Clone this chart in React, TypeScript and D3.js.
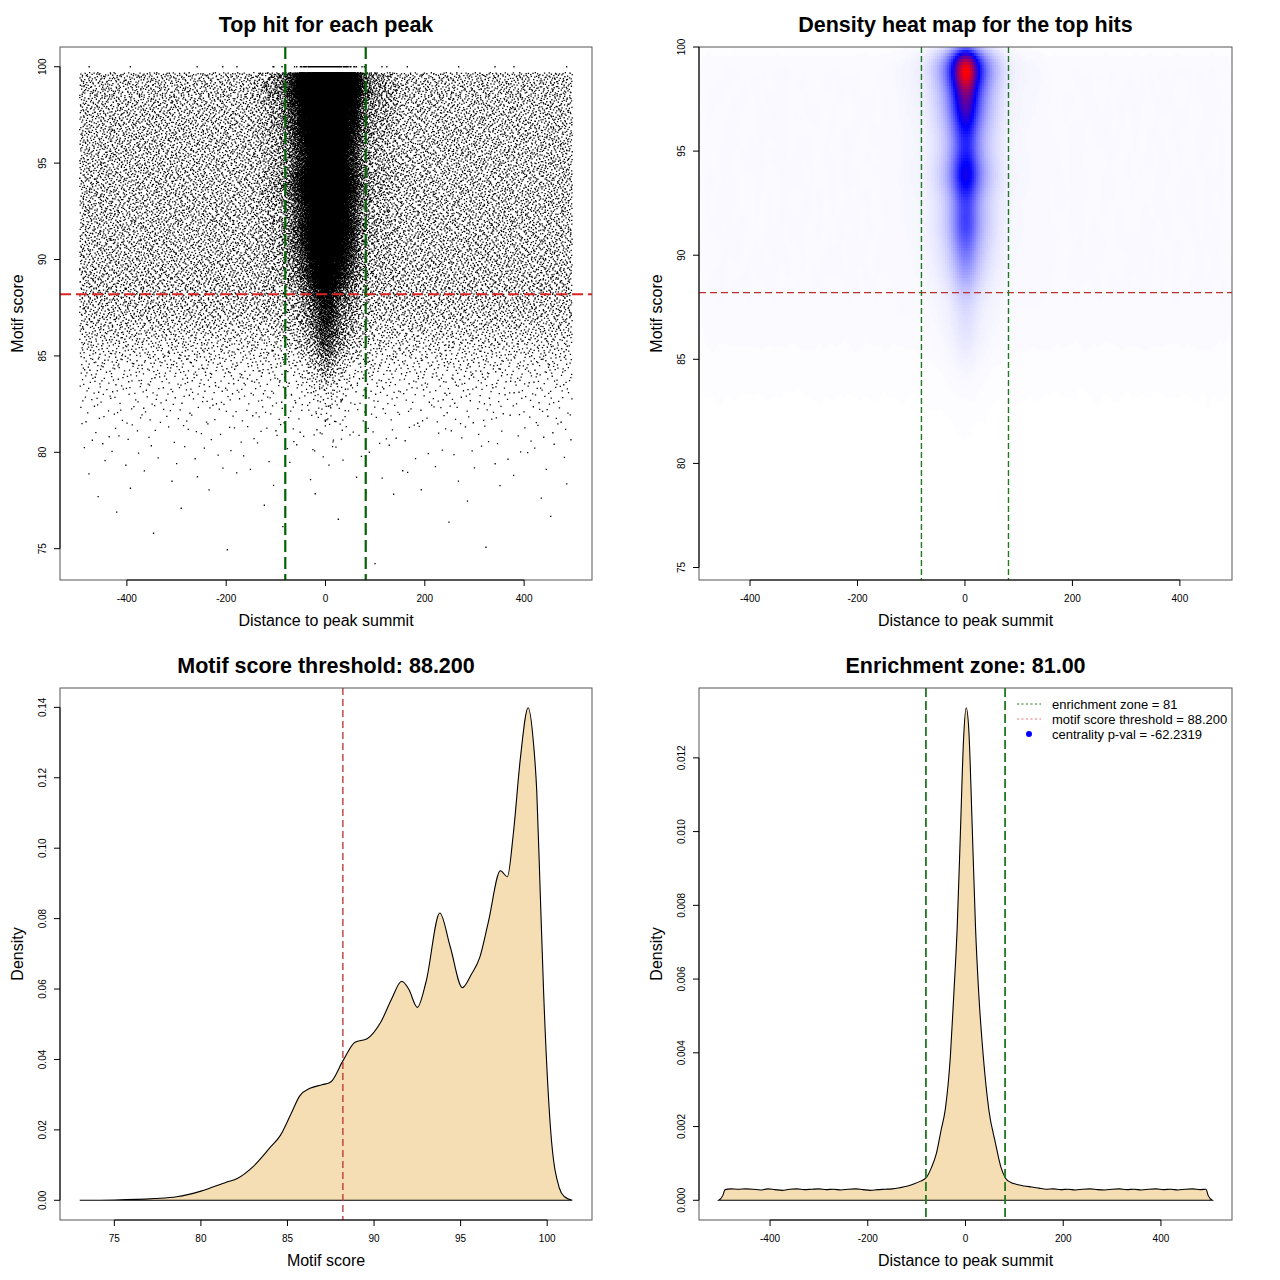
import React, { useEffect, useRef } from "react";
import * as d3 from "d3";

// ---------- data ----------

// motif score density (bottom left panel)
const scoreX = [73.0, 75.0, 77.3, 78.6, 80.0, 81.5, 82.1, 83.0, 84.0, 84.6, 85.2, 85.7, 86.3, 87.0, 87.5,
  88.2, 88.9, 89.6, 90.4, 91.0, 91.6, 92.0, 92.5, 93.0, 93.8, 94.4, 95.1, 95.6, 96.1, 96.6,
  97.3, 97.7, 98.05, 98.45, 98.9, 99.2, 99.4, 99.6, 99.8, 100.2, 100.7, 101.0, 101.45];
const scoreY = [0, 0.0001, 0.0005, 0.0010, 0.0026, 0.0052, 0.0062, 0.0095, 0.0150, 0.0185, 0.0245, 0.0296, 0.0318, 0.0328, 0.0336,
  0.0396, 0.0449, 0.0459, 0.0507, 0.0570, 0.0622, 0.0600, 0.0548, 0.0620, 0.0816, 0.0720, 0.0604, 0.0640, 0.0689, 0.0790,
  0.0936, 0.0919, 0.1044, 0.1255, 0.1399, 0.1303, 0.1159, 0.0871, 0.0583, 0.0199, 0.0035, 0.0010, 0];

// distance-to-summit density (bottom right panel)
const distX = [-505, -497, -492,
  -480, -465, -450, -435, -420, -405, -390, -375, -360, -345, -330, -315,
  -300, -285, -270, -255, -240, -225, -210, -195, -180, -165, -150,
  -135, -120, -106, -92, -80, -70, -60, -50, -41, -31, -24, -17, -10, -4,
  1.5, 7, 13.7, 20.5, 27.3, 36.3, 47.8, 61.5, 72, 82, 92, 105, 120, 135, 150,
  165, 180, 195, 210, 225, 240, 255, 270, 285, 300, 315,
  330, 345, 360, 375, 390, 405, 420, 435, 450, 465, 480,
  492, 497, 505];
const distY = [0, 0.00012, 0.00029,
  0.00031, 0.00030, 0.00031, 0.00030, 0.00028, 0.00031, 0.00029, 0.00027, 0.00030, 0.00031, 0.00029, 0.00030,
  0.00031, 0.00029, 0.00030, 0.00028, 0.00030, 0.00031, 0.00029, 0.00027, 0.00029, 0.00030, 0.00031,
  0.00034, 0.00038, 0.00044, 0.00052, 0.00062, 0.00088, 0.00125, 0.00190, 0.00250, 0.00390, 0.00557, 0.00740, 0.01015, 0.01250,
  0.01336, 0.01270, 0.01015, 0.00740, 0.00557, 0.00392, 0.00245, 0.00154, 0.00092, 0.00060, 0.00049, 0.00043, 0.00039, 0.00036, 0.00033,
  0.00030, 0.00031, 0.00029, 0.00030, 0.00028, 0.00030, 0.00031, 0.00029, 0.00028, 0.00030, 0.00031,
  0.00029, 0.00030, 0.00028, 0.00030, 0.00031, 0.00029, 0.00030, 0.00028, 0.00030, 0.00031, 0.00029,
  0.00030, 0.00012, 0];

// top hits per half-unit motif score bin (scatter + heat map)
const scoreBins = [74, 74.5, 75, 75.5, 76, 76.5, 77, 77.5, 78, 78.5, 79, 79.5, 80, 80.5, 81, 81.5, 82, 82.5,
  83, 83.5, 84, 84.5, 85, 85.5, 86, 86.5, 87, 87.5, 88, 88.5, 89, 89.5, 90, 90.5, 91, 91.5,
  92, 92.5, 93, 93.5, 94, 94.5, 95, 95.5, 96, 96.5, 97, 97.5, 98, 98.5, 99, 99.5];
// hits spread over the whole +-500 window
const flankHits = [1, 1, 1, 1, 2, 3, 3, 5, 7, 9, 12, 16, 22, 29, 40, 54, 72, 97,
  130, 170, 215, 275, 340, 400, 470, 530, 590, 630, 650, 650, 650, 650, 650, 650, 650, 650,
  650, 650, 650, 650, 650, 650, 650, 650, 650, 650, 650, 650, 650, 650, 650, 280];
// hits piled up at the summit
const centralHits = [0, 0, 0, 0, 0, 0, 0, 0, 0, 0, 0, 0, 2, 3, 5, 7, 10, 14,
  20, 30, 45, 70, 110, 150, 180, 210, 240, 290, 400, 560, 780, 900, 1080, 1280, 1480, 1540,
  1400, 1430, 1880, 2330, 2130, 1740, 1570, 1730, 1980, 2420, 2770, 2750, 3520, 4420, 4150, 1600];
const topScore = 100;
const topRowCentral = 120;
const topRowFlank = 14;
const maxBinScore = 99.7;
const binWidth = 0.5;
const flankBackground = 0.0003;
const distRange = [-495, 497];
const scoreRange = [74.4, 100];

const threshold = 88.2;
const zone = 81;

const distTicks = [-400, -200, 0, 200, 400];
const scoreTicks = [75, 80, 85, 90, 95, 100];
const densScoreTicks = [0, 0.02, 0.04, 0.06, 0.08, 0.1, 0.12, 0.14];
const densDistTicks = [0, 0.002, 0.004, 0.006, 0.008, 0.01, 0.012];

const titles = ["Top hit for each peak", "Density heat map for the top hits", "Motif score threshold: 88.200", "Enrichment zone: 81.00"];
const legendLabels = ["enrichment zone = 81", "motif score threshold = 88.200", "centrality p-val = -62.2319"];

const FONT = "'Liberation Sans', Arial, Helvetica, sans-serif";

type Box = { l: number; r: number; t: number; b: number };
type G = d3.Selection<SVGGElement, unknown, null, undefined>;

// leaped Halton sequence, used only to spread each bin's hits inside the bin
function halton(i: number, b: number) {
  let f = 1, r = 0;
  while (i > 0) {
    f /= b;
    r += f * (i % b);
    i = Math.floor(i / b);
  }
  return r;
}

function gaussKernel(sigma: number) {
  const r = Math.ceil(sigma * 3);
  const k: number[] = [];
  let s = 0;
  for (let i = -r; i <= r; i++) {
    const v = Math.exp(-(i * i) / (2 * sigma * sigma));
    k.push(v);
    s += v;
  }
  return k.map(v => v / s);
}

function frame(g: G, p: Box) {
  g.append("rect")
    .attr("x", p.l).attr("y", p.t)
    .attr("width", p.r - p.l).attr("height", p.b - p.t)
    .attr("fill", "none").attr("stroke", "#555").attr("stroke-width", 1);
}

function bottomAxis(g: G, x: d3.ScaleLinear<number, number>, ticks: number[], p: Box, fmt: (v: number) => string, title: string) {
  g.append("line")
    .attr("x1", x(ticks[0])).attr("x2", x(ticks[ticks.length - 1]))
    .attr("y1", p.b).attr("y2", p.b).attr("stroke", "#000");
  g.selectAll(null).data(ticks).join("line")
    .attr("x1", d => x(d)).attr("x2", d => x(d))
    .attr("y1", p.b).attr("y2", p.b + 6).attr("stroke", "#000");
  g.selectAll(null).data(ticks).join("text")
    .attr("x", d => x(d)).attr("y", p.b + 22)
    .attr("text-anchor", "middle").style("font-size", "10px").style("font-family", FONT)
    .text(d => fmt(d));
  g.append("text")
    .attr("x", (p.l + p.r) / 2).attr("y", p.b + 46)
    .attr("text-anchor", "middle").style("font-size", "16px").style("font-family", FONT)
    .text(title);
}

function leftAxis(g: G, y: d3.ScaleLinear<number, number>, ticks: number[], p: Box, fmt: (v: number) => string, title: string) {
  g.append("line")
    .attr("x1", p.l).attr("x2", p.l)
    .attr("y1", y(ticks[0])).attr("y2", y(ticks[ticks.length - 1])).attr("stroke", "#000");
  g.selectAll(null).data(ticks).join("line")
    .attr("x1", p.l).attr("x2", p.l - 6)
    .attr("y1", d => y(d)).attr("y2", d => y(d)).attr("stroke", "#000");
  g.selectAll(null).data(ticks).join("text")
    .attr("transform", d => `translate(${p.l - 14.5},${y(d)}) rotate(-90)`)
    .attr("text-anchor", "middle").style("font-size", "10px").style("font-family", FONT)
    .text(d => fmt(d));
  g.append("text")
    .attr("transform", `translate(${p.l - 37},${(p.t + p.b) / 2}) rotate(-90)`)
    .attr("text-anchor", "middle").style("font-size", "16px").style("font-family", FONT)
    .text(title);
}

function mainTitle(g: G, p: Box, text: string) {
  g.append("text")
    .attr("x", (p.l + p.r) / 2).attr("y", p.t - 15)
    .attr("text-anchor", "middle").style("font-size", "21.5px").style("font-weight", "bold").style("font-family", FONT)
    .text(text);
}

function dashed(g: G, x1: number, y1: number, x2: number, y2: number, color: string, width: number, dash: string) {
  g.append("line")
    .attr("x1", x1).attr("y1", y1).attr("x2", x2).attr("y2", y2)
    .attr("stroke", color).attr("stroke-width", width).attr("stroke-dasharray", dash);
}

const App: React.FC = () => {
  const svgRef = useRef<SVGSVGElement | null>(null);

  useEffect(() => {
    if (!svgRef.current) return;
    const svg = d3.select(svgRef.current);
    svg.selectAll("*").remove();

    const pA: Box = { l: 60, r: 592, t: 47, b: 580 };
    const pB: Box = { l: 699, r: 1232, t: 47, b: 580 };
    const pC: Box = { l: 60, r: 592, t: 688, b: 1220 };
    const pD: Box = { l: 699, r: 1232, t: 688, b: 1220 };

    // central distance profile = distance density minus flat background
    const distInterp = d3.scaleLinear().domain(distX).range(distY).clamp(true);
    const grid = d3.range(-150, 150.01, 0.5);
    const cdf: number[] = [];
    let acc = 0;
    grid.forEach(t => {
      acc += Math.max(0, distInterp(t) - flankBackground);
      cdf.push(acc);
    });
    const bis = d3.bisector((v: number) => v).left;
    const sampleCentral = (u: number) => {
      const target = u * acc;
      const i = Math.min(bis(cdf, target), grid.length - 1);
      const c0 = i > 0 ? cdf[i - 1] : 0;
      const w = cdf[i] - c0 || 1;
      return grid[i] - 0.5 + 0.5 * ((target - c0) / w);
    };

    // build the hit list from the bin counts
    const hits: [number, number][] = [];
    const LEAP = 409;
    let k = 1;
    const spanD = distRange[1] - distRange[0];
    scoreBins.forEach((lo, i) => {
      const hi = Math.min(lo + binWidth, maxBinScore);
      for (let j = 0; j < flankHits[i]; j++, k++)
        hits.push([distRange[0] + halton(k * LEAP, 2) * spanD, lo + halton(k * LEAP, 3) * (hi - lo)]);
      for (let j = 0; j < centralHits[i]; j++, k++)
        hits.push([sampleCentral(halton(k * LEAP, 2)), lo + halton(k * LEAP, 3) * (hi - lo)]);
    });
    for (let j = 0; j < topRowFlank; j++, k++) hits.push([distRange[0] + halton(k * LEAP, 2) * spanD, topScore]);
    for (let j = 0; j < topRowCentral; j++, k++) hits.push([sampleCentral(halton(k * LEAP, 2)), topScore]);

    // ---------- A: scatter ----------
    const gA = svg.append("g");
    const extD = spanD * 0.04, extS = (scoreRange[1] - scoreRange[0]) * 0.04;
    const xA = d3.scaleLinear().domain([distRange[0] - extD, distRange[1] + extD]).range([pA.l, pA.r]);
    const yA = d3.scaleLinear().domain([scoreRange[0] - extS, scoreRange[1] + extS]).range([pA.b, pA.t]);
    const dot = 1.3;
    const dPath = hits.map(([d, s]) => `M${(xA(d) - dot / 2).toFixed(1)},${(yA(s) - dot / 2).toFixed(1)}h${dot}v${dot}h-${dot}z`).join("");
    gA.append("path").attr("d", dPath).attr("fill", "#000");
    dashed(gA, pA.l, yA(threshold), pA.r, yA(threshold), "#dd2424", 2, "11,5");
    [-zone, zone].forEach(z => dashed(gA, xA(z), pA.t, xA(z), pA.b, "#006400", 2.2, "12,5"));
    frame(gA, pA);
    bottomAxis(gA, xA, distTicks, pA, d => String(d), "Distance to peak summit");
    leftAxis(gA, yA, scoreTicks, pA, d => String(d), "Motif score");
    mainTitle(gA, pA, titles[0]);

    // ---------- B: heat map ----------
    const gB = svg.append("g");
    const xB = d3.scaleLinear().domain(distRange).range([pB.l, pB.r]);
    const yB = d3.scaleLinear().domain(scoreRange).range([pB.b, pB.t]);
    const NX = 266, NY = 178;
    const cw = spanD / NX, ch = (scoreRange[1] - scoreRange[0]) / NY;
    const counts = new Float64Array(NX * NY);
    hits.forEach(([d, s]) => {
      const c = Math.min(NX - 1, Math.max(0, Math.floor((d - distRange[0]) / cw)));
      const r = Math.min(NY - 1, Math.max(0, Math.floor((s - scoreRange[0]) / ch)));
      counts[r * NX + c] += 1;
    });
    const kx = gaussKernel(7 / cw), rx = (kx.length - 1) / 2;
    const ky = gaussKernel(0.45 / ch), ry = (ky.length - 1) / 2;
    const tmp = new Float64Array(NX * NY);
    for (let r = 0; r < NY; r++)
      for (let c = 0; c < NX; c++) {
        let s = 0;
        for (let j = 0; j < kx.length; j++) {
          const cc = c + j - rx;
          if (cc >= 0 && cc < NX) s += counts[r * NX + cc] * kx[j];
        }
        tmp[r * NX + c] = s;
      }
    const dens = new Float64Array(NX * NY);
    for (let r = 0; r < NY; r++)
      for (let c = 0; c < NX; c++) {
        let s = 0;
        for (let j = 0; j < ky.length; j++) {
          const rr = r + j - ry;
          if (rr >= 0 && rr < NY) s += tmp[rr * NX + c] * ky[j];
        }
        dens[r * NX + c] = s;
      }
    const mx = d3.max(dens) || 1;
    const col = d3.scaleLinear<string>().domain([0, 0.5, 1]).range(["#ffffff", "#0000ff", "#ff0000"]).interpolate(d3.interpolateRgb);
    const cells: { c0: number; c1: number; r: number; fill: string }[] = [];
    for (let r = 0; r < NY; r++) {
      let start = 0;
      let cur = "";
      for (let c = 0; c <= NX; c++) {
        const f = c < NX ? d3.color(col(Math.round((dens[r * NX + c] / mx) * 255) / 255))!.formatHex() : "";
        if (c === 0) { cur = f; continue; }
        if (f !== cur) {
          cells.push({ c0: start, c1: c, r, fill: cur });
          start = c;
          cur = f;
        }
      }
    }
    gB.append("g").attr("shape-rendering", "crispEdges")
      .selectAll("rect").data(cells.filter(d => d.fill !== "#ffffff")).join("rect")
      .attr("x", d => xB(distRange[0] + d.c0 * cw))
      .attr("width", d => xB(distRange[0] + d.c1 * cw) - xB(distRange[0] + d.c0 * cw) + 0.3)
      .attr("y", d => yB(scoreRange[0] + (d.r + 1) * ch))
      .attr("height", d => yB(scoreRange[0] + d.r * ch) - yB(scoreRange[0] + (d.r + 1) * ch) + 0.3)
      .attr("fill", d => d.fill);
    dashed(gB, pB.l, yB(threshold), pB.r, yB(threshold), "#b83030", 1.3, "7,4");
    [-zone, zone].forEach(z => dashed(gB, xB(z), pB.t, xB(z), pB.b, "#1f7a1f", 1.4, "6,3"));
    frame(gB, pB);
    bottomAxis(gB, xB, distTicks, pB, d => String(d), "Distance to peak summit");
    leftAxis(gB, yB, scoreTicks, pB, d => String(d), "Motif score");
    mainTitle(gB, pB, titles[1]);

    // ---------- C: motif score density ----------
    const gC = svg.append("g");
    const sExt = (scoreX[scoreX.length - 1] - scoreX[0]) * 0.04;
    const yMaxC = d3.max(scoreY) || 0;
    const xC = d3.scaleLinear().domain([scoreX[0] - sExt, scoreX[scoreX.length - 1] + sExt]).range([pC.l, pC.r]);
    const yC = d3.scaleLinear().domain([-yMaxC * 0.04, yMaxC * 1.04]).range([pC.b, pC.t]);
    const areaC = d3.line<number>().x((_, i) => xC(scoreX[i])).y(d => yC(d)).curve(d3.curveMonotoneX);
    gC.append("path").attr("d", areaC(scoreY) + "Z")
      .attr("fill", "#f5deb3").attr("stroke", "#000").attr("stroke-width", 1.1);
    dashed(gC, xC(threshold), pC.t, xC(threshold), pC.b, "#b83030", 1.3, "7,4");
    frame(gC, pC);
    bottomAxis(gC, xC, scoreTicks, pC, d => String(d), "Motif score");
    leftAxis(gC, yC, densScoreTicks, pC, d => d3.format(".2f")(d), "Density");
    mainTitle(gC, pC, titles[2]);

    // ---------- D: distance density ----------
    const gD = svg.append("g");
    const dExt = (distX[distX.length - 1] - distX[0]) * 0.04;
    const yMaxD = d3.max(distY) || 0;
    const xD = d3.scaleLinear().domain([distX[0] - dExt, distX[distX.length - 1] + dExt]).range([pD.l, pD.r]);
    const yD = d3.scaleLinear().domain([-yMaxD * 0.04, yMaxD * 1.04]).range([pD.b, pD.t]);
    const areaD = d3.line<number>().x((_, i) => xD(distX[i])).y(d => yD(d)).curve(d3.curveMonotoneX);
    gD.append("path").attr("d", areaD(distY) + "Z")
      .attr("fill", "#f5deb3").attr("stroke", "#000").attr("stroke-width", 1.1);
    [-zone, zone].forEach(z => dashed(gD, xD(z), pD.t, xD(z), pD.b, "#1f7a1f", 1.8, "9,4"));
    frame(gD, pD);
    bottomAxis(gD, xD, distTicks, pD, d => String(d), "Distance to peak summit");
    leftAxis(gD, yD, densDistTicks, pD, d => d3.format(".3f")(d), "Density");
    mainTitle(gD, pD, titles[3]);

    // legend
    const legY = [704, 719, 734];
    const lg = gD.append("g");
    dashed(lg, 1017, legY[0], 1041, legY[0], "#1f7a1f", 1, "2,2.5");
    dashed(lg, 1017, legY[1], 1041, legY[1], "#f07070", 1, "2,2.5");
    lg.append("circle").attr("cx", 1029).attr("cy", legY[2]).attr("r", 3).attr("fill", "#0000ff");
    lg.selectAll(null).data(legendLabels).join("text")
      .attr("x", 1052).attr("y", (_, i) => legY[i] + 4.5)
      .style("font-size", "13px").style("font-family", FONT)
      .text(d => d);
  }, []);

  return (
    <svg ref={svgRef} width={1280} height={1280}
      style={{ position: "absolute", left: 0, top: 0, background: "#fff" }} />
  );
};

export default App;
